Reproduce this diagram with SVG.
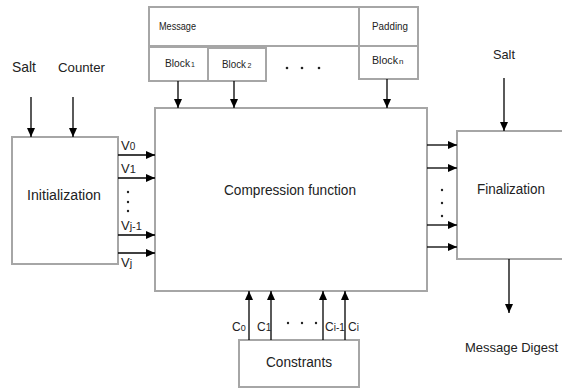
<svg xmlns="http://www.w3.org/2000/svg" width="562" height="388" viewBox="0 0 562 388">
  <defs>
    <marker id="arrow" markerUnits="userSpaceOnUse" markerWidth="10" markerHeight="10" refX="9" refY="5" orient="auto">
      <path d="M0,1 L9,5 L0,9 Z" fill="#000"/>
    </marker>
    <style>
      .box { fill: #fff; stroke: #a6a6a6; stroke-width: 2; }
      .wire { stroke: #000; stroke-width: 1.3; fill: none; }
      .arr { stroke: #000; stroke-width: 1.3; fill: none; marker-end: url(#arrow); }
      text { font-family: "Liberation Sans", Arial, sans-serif; fill: #222; }
      .lbl { font-size: 14px; }
      .sm { font-size: 11px; }
      .dot { fill: #222; }
    </style>
  </defs>

  <rect width="562" height="388" fill="#fff"/>

  <!-- message layout bar -->
  <g id="message">
    <rect class="box" x="149" y="7" width="210" height="39"/>
    <text class="sm" x="159" y="30" textLength="37" lengthAdjust="spacingAndGlyphs">Message</text>
  </g>
  <g id="padding">
    <rect class="box" x="359" y="7" width="59" height="39"/>
    <text class="sm" x="372" y="30" textLength="36" lengthAdjust="spacingAndGlyphs">Padding</text>
  </g>
  <g id="block1">
    <rect class="box" x="149" y="47" width="59" height="34"/>
    <text class="sm" x="165" y="67" textLength="25" lengthAdjust="spacingAndGlyphs">Block</text>
    <text x="191" y="67" font-size="7">1</text>
  </g>
  <g id="block2">
    <rect class="box" x="208" y="48" width="58" height="33"/>
    <text class="sm" x="222" y="68" textLength="24" lengthAdjust="spacingAndGlyphs">Block</text>
    <text x="247.5" y="68" font-size="7">2</text>
  </g>
  <g id="block-dots">
    <circle class="dot" cx="287" cy="68" r="1.3"/>
    <circle class="dot" cx="302" cy="68" r="1.3"/>
    <circle class="dot" cx="319" cy="68" r="1.3"/>
  </g>
  <g id="blockn">
    <rect class="box" x="359" y="46" width="59" height="33"/>
    <text class="sm" x="372" y="64" textLength="26" lengthAdjust="spacingAndGlyphs">Block</text>
    <text x="399" y="64" font-size="8">n</text>
  </g>

  <!-- input labels -->
  <g id="salt-in">
    <text x="12" y="72" font-size="15" textLength="24" lengthAdjust="spacingAndGlyphs">Salt</text>
  </g>
  <g id="counter-in">
    <text x="58" y="72" font-size="13" textLength="47" lengthAdjust="spacingAndGlyphs">Counter</text>
  </g>
  <g id="salt-fin">
    <text x="493" y="59" font-size="13" textLength="22" lengthAdjust="spacingAndGlyphs">Salt</text>
  </g>

  <!-- main blocks -->
  <g id="initialization">
    <rect class="box" x="12" y="137" width="106" height="127"/>
    <text class="lbl" x="27" y="200" textLength="74" lengthAdjust="spacingAndGlyphs">Initialization</text>
  </g>
  <g id="compression">
    <rect class="box" x="155" y="108" width="272" height="183"/>
    <text class="lbl" x="224" y="195" textLength="132" lengthAdjust="spacingAndGlyphs">Compression function</text>
  </g>
  <g id="finalization">
    <rect class="box" x="457" y="131" width="115" height="128"/>
    <text class="lbl" x="477" y="194" textLength="68" lengthAdjust="spacingAndGlyphs">Finalization</text>
  </g>
  <g id="constrants">
    <rect class="box" x="239" y="340" width="120" height="47"/>
    <text class="lbl" x="266" y="367" textLength="66" lengthAdjust="spacingAndGlyphs">Constrants</text>
  </g>
  <g id="digest">
    <text x="465" y="352" font-size="13" textLength="93" lengthAdjust="spacingAndGlyphs">Message Digest</text>
  </g>

  <!-- connectors -->
  <g id="connectors">
    <line class="arr" x1="31" y1="97" x2="31" y2="137"/>
    <line class="arr" x1="73" y1="97" x2="73" y2="137"/>
    <line class="arr" x1="178" y1="81" x2="178" y2="108"/>
    <line class="arr" x1="234" y1="81" x2="234" y2="108"/>
    <line class="arr" x1="387" y1="79" x2="387" y2="108"/>

    <line class="arr" x1="118" y1="155" x2="155" y2="155"/>
    <line class="arr" x1="118" y1="178" x2="155" y2="178"/>
    <line class="arr" x1="118" y1="235" x2="155" y2="235"/>
    <line class="arr" x1="118" y1="253" x2="155" y2="253"/>

    <line class="arr" x1="427" y1="145" x2="457" y2="145"/>
    <line class="arr" x1="427" y1="168" x2="457" y2="168"/>
    <line class="arr" x1="427" y1="225" x2="457" y2="225"/>
    <line class="arr" x1="427" y1="247" x2="457" y2="247"/>

    <line class="arr" x1="504" y1="78" x2="504" y2="131"/>
    <line class="arr" x1="509" y1="259" x2="509" y2="313"/>

    <line class="arr" x1="249" y1="340" x2="249" y2="291"/>
    <line class="arr" x1="271" y1="340" x2="271" y2="291"/>
    <line class="arr" x1="323" y1="340" x2="323" y2="291"/>
    <line class="arr" x1="345" y1="340" x2="345" y2="291"/>
  </g>

  <!-- chaining value labels -->
  <g id="v-labels">
    <text x="121" y="150" font-size="13">V<tspan font-size="10">0</tspan></text>
    <text x="121" y="173" font-size="13">V<tspan font-size="11">1</tspan></text>
    <circle class="dot" cx="128" cy="192" r="1.2"/>
    <circle class="dot" cx="128" cy="202" r="1.2"/>
    <circle class="dot" cx="128" cy="211" r="1.2"/>
    <text x="121" y="230" font-size="13">V<tspan font-size="11">j-1</tspan></text>
    <text x="121" y="267" font-size="13">V<tspan font-size="11">j</tspan></text>
  </g>
  <g id="out-dots">
    <circle class="dot" cx="442" cy="190" r="1.2"/>
    <circle class="dot" cx="442" cy="203" r="1.2"/>
    <circle class="dot" cx="442" cy="216" r="1.2"/>
  </g>

  <!-- constant labels -->
  <g id="c-labels">
    <text x="232" y="331" font-size="12">C<tspan font-size="9">0</tspan></text>
    <text x="257" y="331" font-size="12">C<tspan font-size="10">1</tspan></text>
    <circle class="dot" cx="288" cy="323" r="1.2"/>
    <circle class="dot" cx="302" cy="323" r="1.2"/>
    <circle class="dot" cx="316" cy="323" r="1.2"/>
    <text x="325" y="331" font-size="12">C<tspan font-size="10">i-1</tspan></text>
    <text x="348" y="331" font-size="12">C<tspan font-size="10">i</tspan></text>
  </g>
</svg>
